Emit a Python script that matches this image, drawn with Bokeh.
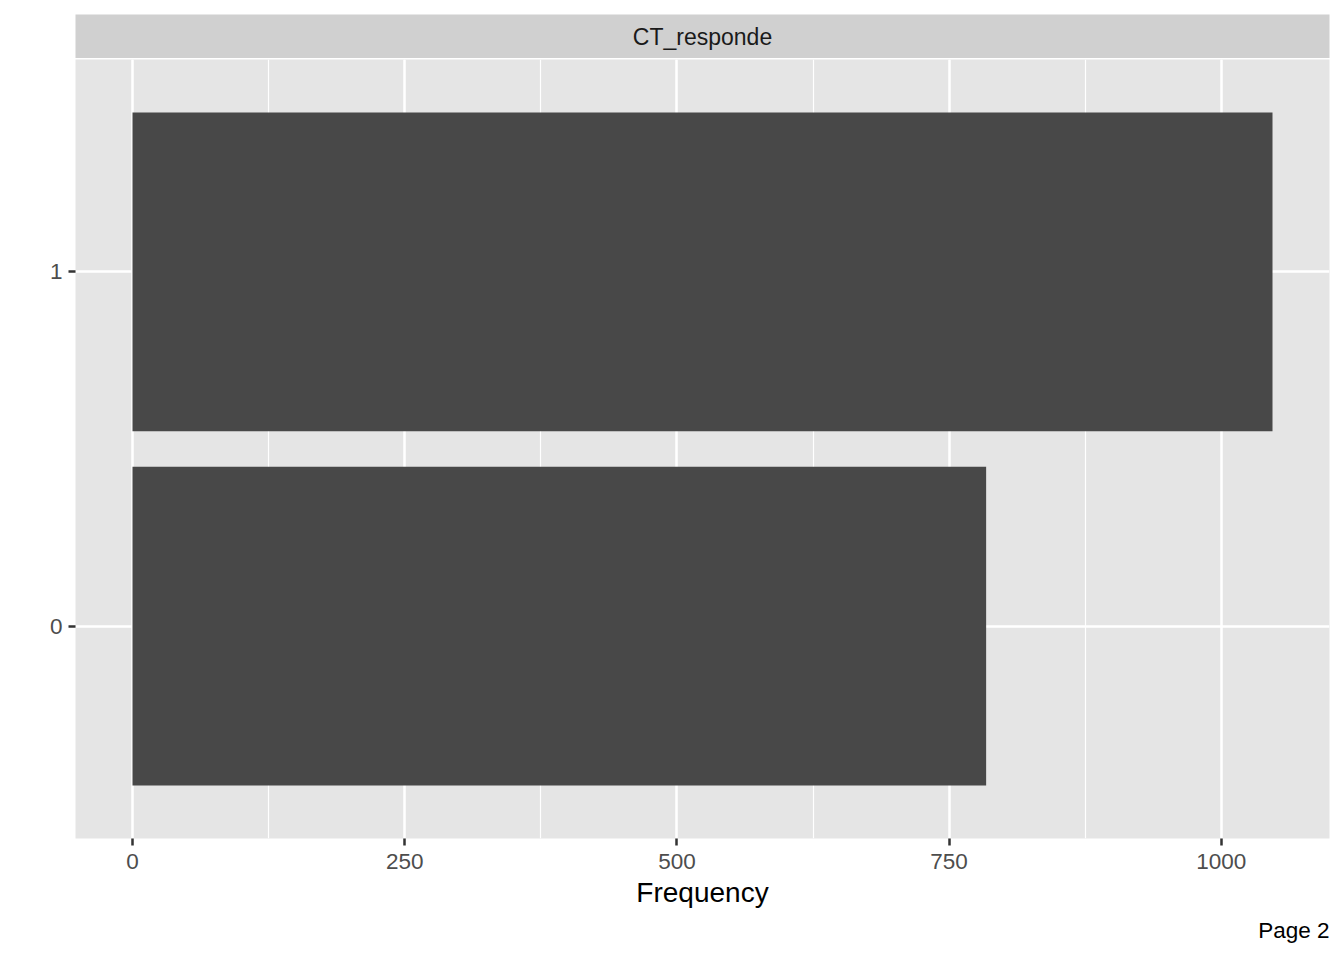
from bokeh.plotting import figure
from bokeh.models import Range1d, FactorRange, SingleIntervalTicker, Title
from bokeh.layouts import column
from bokeh.embed import file_html
from bokeh.resources import INLINE
from bokeh.core.properties import value

# ---- data ----
categories = ["0", "1"]
counts = [784, 1047]
strip_label = "CT_responde"
x_title = "Frequency"
page_label = "Page 2"
tick_interval = 250

FONT = "Liberation Sans"
W = 1336
LEFT = 75
RIGHT = 7
STRIP_TOP = 14
STRIP_H = 44
FRAME_H = 779
H_STRIP = STRIP_TOP + STRIP_H
H_MAIN = 892

xmax = max(counts)
pad = 0.05 * xmax

# ---- strip (facet label) ----
strip = figure(width=W, height=H_STRIP, x_range=Range1d(0, 1), y_range=Range1d(0, 1),
               output_backend="svg", toolbar_location=None,
               x_axis_location=None, y_axis_location=None,
               min_border_left=LEFT, min_border_right=RIGHT,
               min_border_top=STRIP_TOP, min_border_bottom=0)
strip.grid.visible = False
strip.outline_line_color = None
strip.background_fill_color = "#D0D0D0"
strip.border_fill_color = "white"
strip.text(x=[0.5], y=[0.5], text=[strip_label], text_align="center",
           text_baseline="middle", text_font=value(FONT), text_font_size="23px",
           text_color="#1A1A1A")

# ---- main panel ----
p = figure(width=W, height=H_MAIN,
           x_range=Range1d(-pad, xmax + pad),
           y_range=FactorRange(factors=categories, range_padding=0.1),
           output_backend="svg", toolbar_location=None,
           min_border_left=LEFT, min_border_right=RIGHT,
           min_border_top=1, min_border_bottom=H_MAIN - 1 - FRAME_H)
p.background_fill_color = "#E5E5E5"
p.border_fill_color = "white"
p.outline_line_color = None

p.hbar(y=categories, left=0, right=counts, height=0.9, fill_color="#484848",
       line_color=None)

p.xaxis.ticker = SingleIntervalTicker(interval=tick_interval, num_minor_ticks=2)
p.xgrid.grid_line_color = "white"
p.xgrid.grid_line_width = 2.5
p.xgrid.minor_grid_line_color = "white"
p.xgrid.minor_grid_line_width = 1.2
p.ygrid.grid_line_color = "white"
p.ygrid.grid_line_width = 2.5

for ax in (p.xaxis[0], p.yaxis[0]):
    ax.axis_line_color = None
    ax.major_tick_line_color = "#333333"
    ax.major_tick_line_width = 2.5
    ax.major_tick_out = 7
    ax.major_tick_in = 0
    ax.minor_tick_line_color = None
    ax.major_label_text_font = FONT
    ax.major_label_text_font_size = "22.5px"
    ax.major_label_text_color = "#4D4D4D"
p.xaxis.major_label_standoff = 8
p.yaxis.major_label_standoff = 6

p.xaxis.axis_label = x_title
p.xaxis.axis_label_text_font = FONT
p.xaxis.axis_label_text_font_size = "28px"
p.xaxis.axis_label_text_font_style = "normal"
p.xaxis.axis_label_text_color = "black"
p.xaxis.axis_label_standoff = 5

p.add_layout(Title(text=page_label, align="right", text_font=FONT,
                   text_font_size="22.5px", text_font_style="normal",
                   text_color="black", standoff=11), "below")

layout = column(strip, p, spacing=0)
open("out.html", "w").write(file_html(layout, INLINE))
